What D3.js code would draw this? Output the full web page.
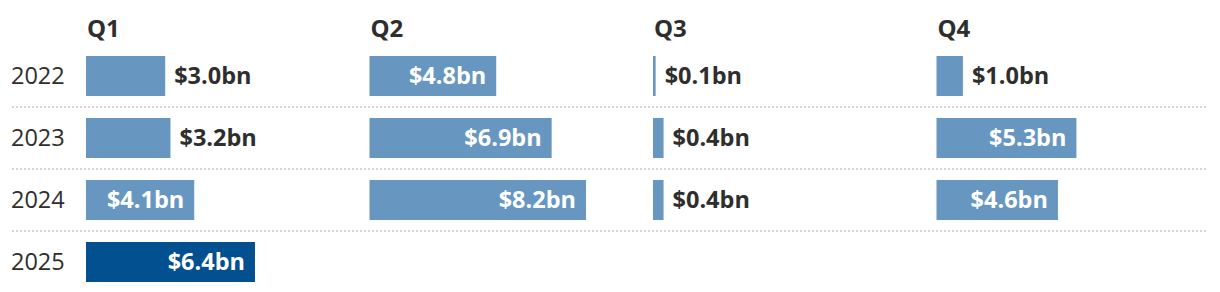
<!DOCTYPE html>
<html>
<head>
<meta charset="utf-8">
<script src="https://cdn.jsdelivr.net/npm/d3@7"></script>
<style>
  body { margin: 0; background: #fff; }
  svg { display: block; font-family: "Open Sans", sans-serif; }
</style>
</head>
<body>
<svg id="chart" width="1220" height="292"></svg>
<script>
const quarters = ["Q1", "Q2", "Q3", "Q4"];
const years = ["2022", "2023", "2024", "2025"];
const q1Values = [3.0, 3.2, 4.1, 6.4];
const q2Values = [4.8, 6.9, 8.2];
const q3Values = [0.1, 0.4, 0.4];
const q4Values = [1.0, 5.3, 4.6];
const highlightYear = "2025";

const series = [q1Values, q2Values, q3Values, q4Values];
const rows = [];
series.forEach((vals, qi) => {
  vals.forEach((v, yi) => rows.push({ q: quarters[qi], year: years[yi], value: v }));
});

const svg = d3.select("#chart");
const textColor = "#2e2e2e";

const col = d3.scaleBand().domain(quarters).range([86, 1220]);
const row = d3.scaleBand().domain(years).range([45, 293])
  .paddingInner(22 / 62).paddingOuter(11 / 62);
const w = d3.scaleLinear().domain([0, 10]).range([0, 264]);

// dotted separators between rows
svg.append("g")
  .selectAll("line")
  .data(years.slice(0, -1))
  .join("line")
  .attr("x1", 12)
  .attr("x2", 1208)
  .attr("y1", d => row(d) + row.bandwidth() + 11)
  .attr("y2", d => row(d) + row.bandwidth() + 11)
  .attr("stroke", "#d6d6d6")
  .attr("stroke-width", 2)
  .attr("stroke-dasharray", "2 2");

// quarter headers
svg.append("g")
  .selectAll("text")
  .data(quarters)
  .join("text")
  .attr("x", d => col(d) + 1)
  .attr("y", 37)
  .attr("fill", textColor)
  .style("font-size", "24px")
  .style("font-weight", 700)
  .text(d => d);

// year labels
svg.append("g")
  .selectAll("text")
  .data(years)
  .join("text")
  .attr("x", 11)
  .attr("y", d => row(d) + row.bandwidth() / 2)
  .attr("dy", "0.36em")
  .attr("fill", textColor)
  .style("font-size", "23.5px")
  .text(d => d);

const bars = svg.append("g")
  .selectAll("g")
  .data(rows)
  .join("g")
  .attr("transform", d => `translate(${col(d.q)},${row(d.year)})`);

bars.append("rect")
  .attr("width", d => Math.max(2, w(d.value)))
  .attr("height", row.bandwidth())
  .attr("fill", d => d.year === highlightYear ? "#02508f" : "#6797c0");

bars.append("text")
  .attr("y", row.bandwidth() / 2)
  .attr("dy", "0.36em")
  .style("font-size", "23.5px")
  .style("font-weight", 700)
  .text(d => `$${d.value.toFixed(1)}bn`)
  .each(function (d) {
    const t = d3.select(this);
    const tw = this.getComputedTextLength();
    const bw = Math.max(2, w(d.value));
    if (bw >= tw + 20) {
      t.attr("x", bw - 10).attr("text-anchor", "end").attr("fill", "#fff");
    } else {
      t.attr("x", bw + 9).attr("text-anchor", "start").attr("fill", textColor);
    }
  });
</script>
</body>
</html>
